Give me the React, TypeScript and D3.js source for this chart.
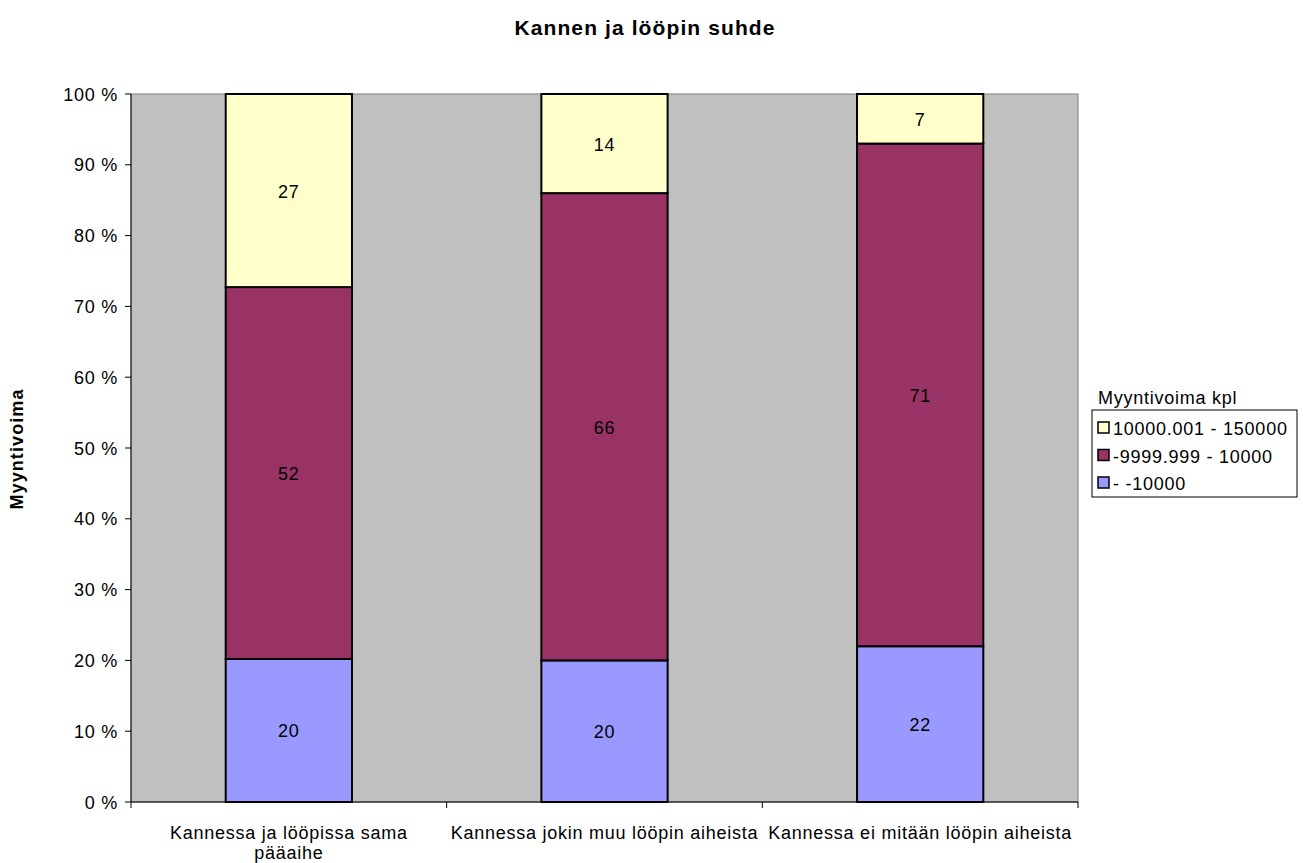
import React from 'react';
import * as d3 from 'd3';

// categories on the x axis (first one wraps to two lines)
const categories = [
  ['Kannessa ja lööpissa sama', 'pääaihe'],
  ['Kannessa jokin muu lööpin aiheista'],
  ['Kannessa ei mitään lööpin aiheista'],
];
const seriesNames = ['- -10000', '-9999.999 - 10000', '10000.001 - 150000'];
const seriesColors = ['#9999FF', '#993366', '#FFFFCC'];
// counts per series (bottom to top)
const lowValues = [20, 20, 22];
const midValues = [52, 66, 71];
const highValues = [27, 14, 7];
const yTicks = [0, 0.1, 0.2, 0.3, 0.4, 0.5, 0.6, 0.7, 0.8, 0.9, 1];

const FONT = '"Liberation Sans", Arial, sans-serif';
const LS = 0.75;

export default function App() {
  const width = 1303;
  const height = 863;
  const plot = { left: 131, top: 94, right: 1078, bottom: 802 };

  const rows = categories.map((c, i) => ({
    idx: i,
    s0: lowValues[i],
    s1: midValues[i],
    s2: highValues[i],
  }));
  const stack = d3.stack<any>()
    .keys(['s0', 's1', 's2'])
    .offset(d3.stackOffsetExpand);
  const stacked = stack(rows);

  const x = d3.scaleBand<number>()
    .domain(categories.map((_, i) => i))
    .range([plot.left, plot.right])
    .paddingInner(0)
    .paddingOuter(0);
  const barW = x.bandwidth() * 0.4;
  const y = d3.scaleLinear().domain([0, 1]).range([plot.bottom, plot.top]);

  const raw = [lowValues, midValues, highValues];
  const boundaries = categories.map((_, i) => x(i) as number).concat([plot.right]);

  return (
    <svg width={width} height={height} style={{ position: 'absolute', left: 0, top: 0 }}
      fontFamily={FONT}>
      <rect width={width} height={height} fill="#fff" />
      <text x={645} y={35} textAnchor="middle" fontSize={21} fontWeight="bold" letterSpacing={1.1}>
        Kannen ja lööpin suhde
      </text>

      <rect x={plot.left} y={plot.top} width={plot.right - plot.left}
        height={plot.bottom - plot.top} fill="#C0C0C0" stroke="#808080" strokeWidth={1} />

      {stacked.map((layer, si) => (
        <g key={si}>
          {layer.map((d, ci) => {
            const bx = (x(ci) as number) + (x.bandwidth() - barW) / 2;
            const y0 = y(d[0]);
            const y1 = y(d[1]);
            return (
              <g key={ci}>
                <rect x={bx} y={y1} width={barW} height={y0 - y1}
                  fill={seriesColors[si]} stroke="#000" strokeWidth={2} />
                <text x={bx + barW / 2} y={(y0 + y1) / 2 + 7} textAnchor="middle"
                  fontSize={18} letterSpacing={LS}>
                  {raw[si][ci]}
                </text>
              </g>
            );
          })}
        </g>
      ))}

      {/* y axis */}
      <line x1={plot.left} x2={plot.left} y1={plot.top} y2={plot.bottom} stroke="#000" />
      {yTicks.map(t => (
        <g key={t}>
          <line x1={plot.left - 6} x2={plot.left} y1={y(t)} y2={y(t)} stroke="#000" />
          <text x={plot.left - 13} y={y(t) + 6.5} textAnchor="end" fontSize={18} letterSpacing={LS}>
            {`${Math.round(t * 100)} %`}
          </text>
        </g>
      ))}

      {/* x axis */}
      <line x1={plot.left} x2={plot.right} y1={plot.bottom} y2={plot.bottom} stroke="#000" />
      {boundaries.map((b, i) => (
        <line key={i} x1={b} x2={b} y1={plot.bottom} y2={plot.bottom + 6} stroke="#000" />
      ))}
      {categories.map((lines, i) => (
        <text key={i} x={(x(i) as number) + x.bandwidth() / 2} y={839}
          textAnchor="middle" fontSize={18} letterSpacing={LS}>
          {lines.map((l, li) => (
            <tspan key={li} x={(x(i) as number) + x.bandwidth() / 2} dy={li === 0 ? 0 : 20}>{l}</tspan>
          ))}
        </text>
      ))}

      <text transform={`translate(23, 449) rotate(-90)`} textAnchor="middle"
        fontSize={18} fontWeight="bold" letterSpacing={1.1}>
        Myyntivoima
      </text>

      {/* legend */}
      <text x={1098} y={404} fontSize={18} letterSpacing={LS}>Myyntivoima kpl</text>
      <rect x={1092} y={410} width={205} height={87} fill="#fff" stroke="#000" />
      {[2, 1, 0].map((si, k) => (
        <g key={si} transform={`translate(1098, ${428 + k * 27.5})`}>
          <rect x={0} y={-6} width={11} height={11} fill={seriesColors[si]} stroke="#000" strokeWidth={1.5} />
          <text x={15} y={7} fontSize={18} letterSpacing={LS}>{seriesNames[si]}</text>
        </g>
      ))}
    </svg>
  );
}
